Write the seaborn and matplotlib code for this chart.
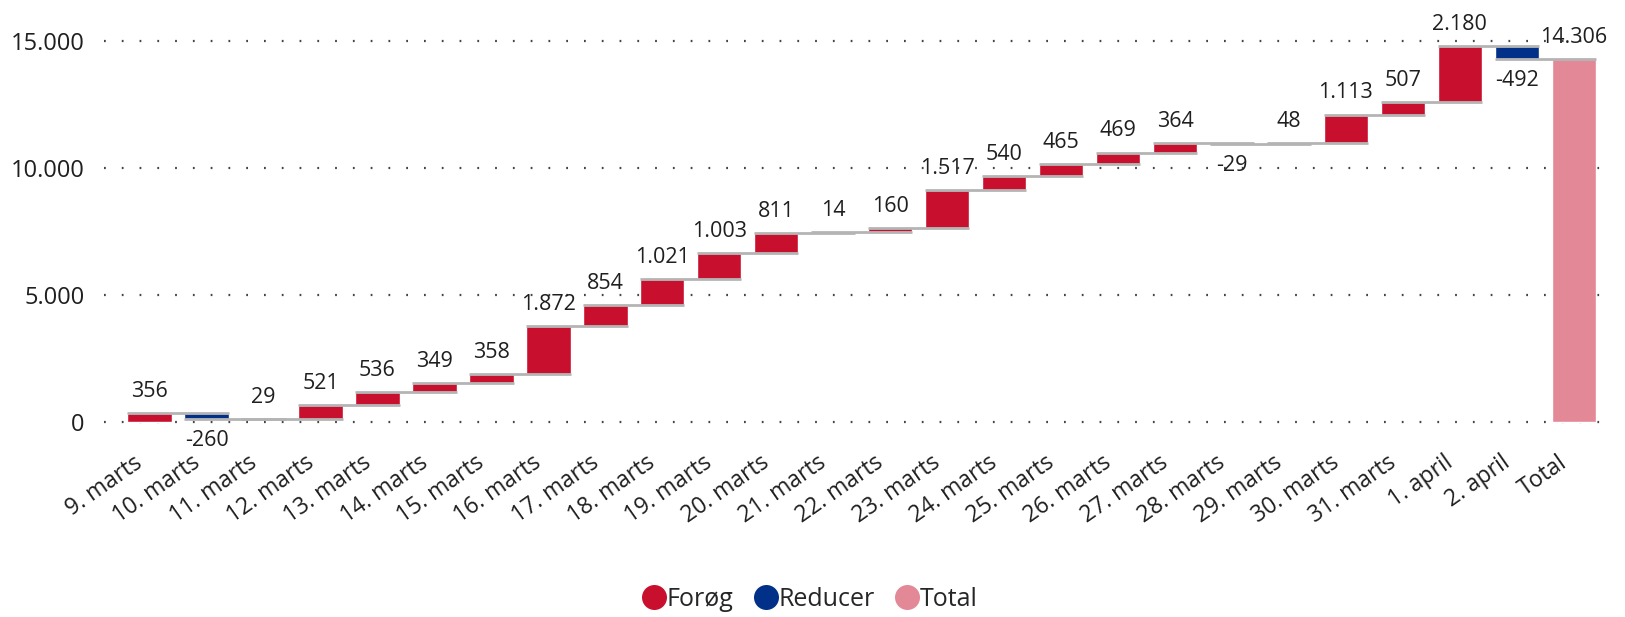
import numpy as np
import pandas as pd
import matplotlib
matplotlib.use("Agg")
import matplotlib.pyplot as plt
import matplotlib.transforms as mtransforms
from matplotlib.lines import Line2D
import seaborn as sns

# Data
datoer = ["9. marts", "10. marts", "11. marts", "12. marts", "13. marts", "14. marts",
          "15. marts", "16. marts", "17. marts", "18. marts", "19. marts", "20. marts",
          "21. marts", "22. marts", "23. marts", "24. marts", "25. marts", "26. marts",
          "27. marts", "28. marts", "29. marts", "30. marts", "31. marts", "1. april",
          "2. april"]
aendring = [356, -260, 29, 521, 536, 349, 358, 1872, 854, 1021, 1003, 811,
            14, 160, 1517, 540, 465, 469, 364, -29, 48, 1113, 507, 2180, -492]
total_label = "Total"
y_ticks = [0, 5000, 10000, 15000]

farve_op = "#C8102E"
farve_ned = "#003087"
farve_total = "#E38896"
tekst = "#1f1f1f"

sns.set_theme(style="white")
plt.rcParams["font.family"] = ["Open Sans", "DejaVu Sans"]

# Waterfall-tabel
df = pd.DataFrame({"dato": datoer, "aendring": aendring})
df["slut"] = df["aendring"].cumsum()
df["start"] = df["slut"] - df["aendring"]
df["type"] = np.where(df["aendring"] >= 0, "Forøg", "Reducer")
total = df["slut"].iloc[-1]
df = pd.concat([df, pd.DataFrame({"dato": [total_label], "aendring": [total],
                                  "slut": [total], "start": [0], "type": ["Total"]})],
               ignore_index=True)
farver = {"Forøg": farve_op, "Reducer": farve_ned, "Total": farve_total}

def fmt(v):
    return f"{v:,.0f}".replace(",", ".")

fig = plt.figure(figsize=(16.25, 6.17), dpi=100)
ax = fig.add_axes([0.064, 0.2917, 0.929, 0.666])

x = np.arange(len(df))
w = 0.78
lav = df[["start", "slut"]].min(axis=1)
hoej = df[["start", "slut"]].max(axis=1)
ax.bar(x, hoej - lav, bottom=lav, width=w, color=df["type"].map(farver), zorder=2)

# forbindelseslinjer
for i in range(len(df) - 1):
    niveau = df["slut"].iloc[i]
    ax.plot([x[i] - w / 2, x[i + 1] + w / 2], [niveau, niveau],
            color="#b4b4b4", lw=2, zorder=3, solid_capstyle="butt")

# værdi-labels
for i, r in df.iterrows():
    if r["aendring"] >= 0:
        ax.annotate(fmt(r["aendring"]), (x[i], hoej[i]), xytext=(0, 8),
                    textcoords="offset points", ha="center", va="bottom",
                    fontsize=15.5, color=tekst)
    else:
        ax.annotate(fmt(r["aendring"]), (x[i], lav[i]), xytext=(0, -8),
                    textcoords="offset points", ha="center", va="top",
                    fontsize=15.5, color=tekst)

ax.set_xlim(-0.8, len(df) - 0.3)
ax.set_ylim(-600, 15600)
ax.set_yticks(y_ticks)
ax.set_yticklabels([fmt(t) for t in y_ticks], fontsize=17, color=tekst)
ax.set_xticks(x)
ax.set_xticklabels(df["dato"], rotation=35, ha="right", rotation_mode="anchor",
                   fontsize=16.5, color=tekst)
ax.tick_params(axis="y", length=0, pad=14)
ax.tick_params(axis="x", length=0, pad=10)
flyt = mtransforms.ScaledTranslation(-16 / 100, 0, fig.dpi_scale_trans)
for lbl in ax.get_xticklabels():
    lbl.set_transform(lbl.get_transform() + flyt)
for t in y_ticks:
    ax.axhline(t, color="#444444", lw=1.6, linestyle=(0, (0.8, 7.2)), zorder=1)
for s in ax.spines.values():
    s.set_visible(False)
ax.set_xlabel("")
ax.set_ylabel("")

handles = [Line2D([0], [0], marker="o", color="w", markerfacecolor=farver[k],
                  markersize=19, label=k) for k in ["Forøg", "Reducer", "Total"]]
fig.legend(handles=handles, loc="center", bbox_to_anchor=(0.498, 0.028), ncol=3,
           frameon=False, fontsize=18, handletextpad=0.0, columnspacing=0.8,
           handlelength=1.0)

fig.savefig("out.png", dpi=100)
